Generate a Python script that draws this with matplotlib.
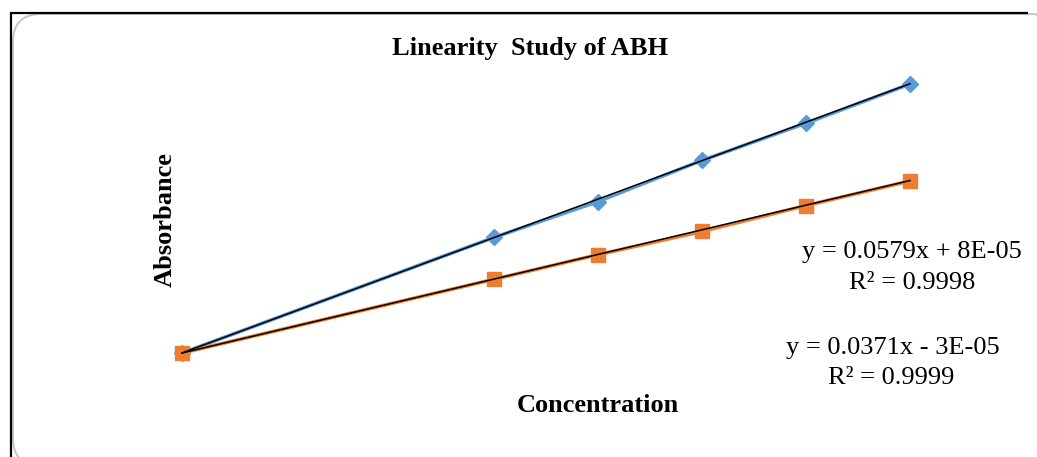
import numpy as np
import matplotlib
matplotlib.use("Agg")
import matplotlib.pyplot as plt
from matplotlib.patches import FancyBboxPatch

# concentration levels and measured absorbance for the two series
conc = [0, 3, 4, 5, 6, 7]
abs_series1 = [0.000, 0.174, 0.228, 0.290, 0.346, 0.405]
abs_series2 = [0.000, 0.111, 0.148, 0.183, 0.222, 0.259]

# linear trendlines (slope, intercept, r2)
fit1 = (0.0579, 8e-05, 0.9998)
fit2 = (0.0371, -3e-05, 0.9999)

W, H = 1037, 457
fig = plt.figure(figsize=(W / 100, H / 100), dpi=100)
serif = "Liberation Serif"
fs = 19

# background layer in pixel coordinates: frame and rounded chart area
bg = fig.add_axes([0, 0, 1, 1])
bg.set_xlim(0, W)
bg.set_ylim(H, 0)
bg.axis("off")
frame = FancyBboxPatch((13, 14), 1045, 452,
                       boxstyle="round,pad=0,rounding_size=28",
                       facecolor="white", edgecolor="#c4c4c4", lw=1.4)
bg.add_patch(frame)
bg.plot([11, 11], [12, H], color="black", lw=1.6, solid_capstyle="butt")
bg.plot([10, 1028], [12.5, 12.5], color="black", lw=1.6, solid_capstyle="butt")

# plot area: x 0..7 spans px 182..910, y 0..0.405 spans px 353..84
ax = fig.add_axes([182 / W, (H - 353) / H, (910 - 182) / W, (353 - 84) / H])
ax.patch.set_alpha(0)
ax.set_xlim(0, 7)
ax.set_ylim(0, 0.405)
ax.axis("off")

ax.plot(conc, abs_series1, color="#5b9bd5", lw=2.6, marker="D", ms=8.5,
        clip_on=False, zorder=2)
ax.plot(conc, abs_series2, color="#ed7d31", lw=2.6, marker="s", ms=10,
        clip_on=False, zorder=3)

xs = np.array([conc[0], conc[-1]])
for slope, icpt, _ in (fit1, fit2):
    ax.plot(xs, slope * xs + icpt, color="black", lw=1.1, clip_on=False, zorder=4)

fig.text(530 / W, 1 - 48 / H, "Linearity  Study of ABH", ha="center", va="center",
         fontsize=fs, fontweight="bold", family=serif)
fig.text(165 / W, 1 - 220 / H, "Absorbance", ha="center", va="center", rotation=90,
         fontsize=fs, fontweight="bold", family=serif)
fig.text(598 / W, 1 - 406 / H, "Concentration", ha="center", va="center",
         fontsize=fs, fontweight="bold", family=serif)


def eq_text(slope, icpt):
    sign = "+" if icpt >= 0 else "-"
    mant, ex = f"{abs(icpt):.0E}".split("E")
    return f"y = {slope}x {sign} {mant}E{ex}"


fig.text(912 / W, 1 - 252 / H, eq_text(fit1[0], fit1[1]), ha="center", va="center",
         fontsize=fs, family=serif)
fig.text(912 / W, 1 - 283 / H, f"R² = {fit1[2]}", ha="center", va="center",
         fontsize=fs, family=serif)
fig.text(893 / W, 1 - 348 / H, eq_text(fit2[0], fit2[1]), ha="center", va="center",
         fontsize=fs, family=serif)
fig.text(891 / W, 1 - 378 / H, f"R² = {fit2[2]}", ha="center", va="center",
         fontsize=fs, family=serif)

fig.savefig("out.png", dpi=100)
